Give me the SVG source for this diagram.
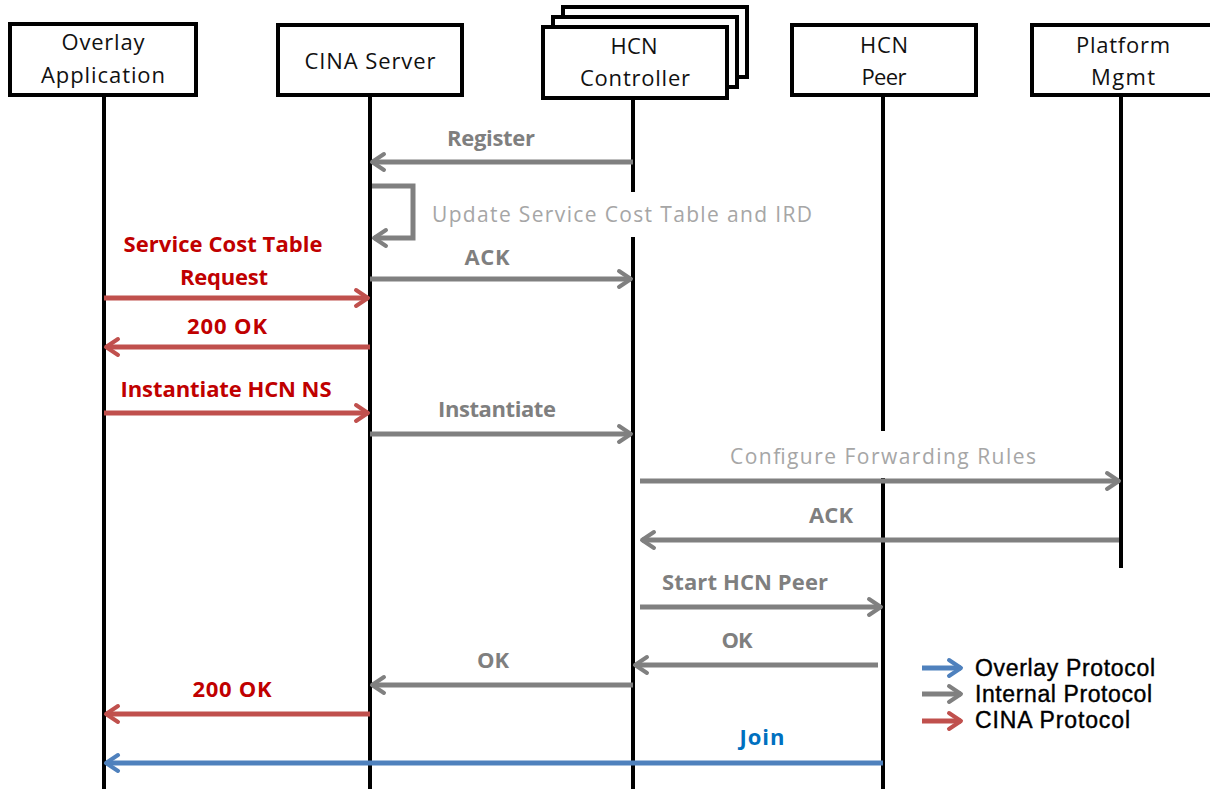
<svg xmlns="http://www.w3.org/2000/svg" width="1210" height="789" viewBox="0 0 1210 789">
  <style>
    .box { fill: #ffffff; stroke: #000000; stroke-width: 4; }
    .life { stroke: #000000; stroke-width: 4; fill: none; }
    .name { font-family: "Open Sans", "Liberation Sans", sans-serif; font-size: 22px; fill: #111111; text-anchor: middle; }
    .lbl { font-family: "Open Sans", "Liberation Sans", sans-serif; font-size: 21px; text-anchor: middle; }
    .b { font-weight: bold; font-size: 22px; }
    .gray { fill: #7f7f7f; }
    .lgray { fill: #a6a6a6; font-weight: normal; }
    .red { fill: #c00000; }
    .blue { fill: #0070c0; }
    .msg { fill: none; stroke-width: 5; }
    .g { stroke: #808080; }
    .r { stroke: #c0504d; }
    .u { stroke: #4f81bd; }
    .legend { font-family: "Liberation Sans", Arial, sans-serif; font-size: 23px; fill: #000000; stroke: #000000; stroke-width: 0.4; }
  </style>
  <defs>
    <marker id="ahGray" markerUnits="userSpaceOnUse" markerWidth="24" markerHeight="24" refX="14" refY="10" orient="auto" overflow="visible">
      <path d="M2,2 L14,10 L2,18" fill="none" stroke="#808080" stroke-width="4" stroke-linecap="round" stroke-linejoin="round"/>
    </marker>
    <marker id="ahRed" markerUnits="userSpaceOnUse" markerWidth="24" markerHeight="24" refX="14" refY="10" orient="auto" overflow="visible">
      <path d="M2,2 L14,10 L2,18" fill="none" stroke="#c0504d" stroke-width="4" stroke-linecap="round" stroke-linejoin="round"/>
    </marker>
    <marker id="ahBlue" markerUnits="userSpaceOnUse" markerWidth="24" markerHeight="24" refX="14" refY="10" orient="auto" overflow="visible">
      <path d="M2,2 L14,10 L2,18" fill="none" stroke="#4f81bd" stroke-width="4" stroke-linecap="round" stroke-linejoin="round"/>
    </marker>
  </defs>

  <rect width="1210" height="789" fill="#ffffff"/>

  <!-- participants -->
  <g id="overlay-app">
    <rect class="box" x="10" y="24" width="186" height="71"/>
    <line class="life" x1="104" y1="95" x2="104" y2="789"/>
    <text class="name" x="103" y="50" textLength="83">Overlay</text>
    <text class="name" x="103" y="83" textLength="124">Application</text>
  </g>

  <g id="cina-server">
    <rect class="box" x="278" y="25" width="184" height="70"/>
    <line class="life" x1="370" y1="95" x2="370" y2="789"/>
    <text class="name" x="370" y="69" textLength="131">CINA Server</text>
  </g>

  <g id="hcn-controller">
    <rect class="box" x="563" y="7" width="184" height="70"/>
    <rect class="box" x="553" y="17" width="184" height="70"/>
    <rect class="box" x="543" y="27" width="184" height="71"/>
    <line class="life" x1="633" y1="98" x2="633" y2="789"/>
    <text class="name" x="634" y="54" textLength="47">HCN</text>
    <text class="name" x="635" y="86" textLength="110">Controller</text>
  </g>

  <g id="hcn-peer">
    <rect class="box" x="792" y="25" width="184" height="70"/>
    <line class="life" x1="883" y1="95" x2="883" y2="789"/>
    <text class="name" x="884" y="53" textLength="48">HCN</text>
    <text class="name" x="884" y="85" textLength="45">Peer</text>
  </g>

  <g id="platform-mgmt">
    <rect class="box" x="1032" y="25" width="190" height="70"/>
    <line class="life" x1="1121" y1="95" x2="1121" y2="568"/>
    <text class="name" x="1123" y="53" textLength="94">Platform</text>
    <text class="name" x="1123" y="85" textLength="64">Mgmt</text>
  </g>

  <!-- messages -->
  <g id="connectors">
    <line class="msg g" x1="633" y1="162" x2="372" y2="162" marker-end="url(#ahGray)"/>
    <path class="msg g" d="M372,186 H413 V238 H374" marker-end="url(#ahGray)"/>
    <line class="msg g" x1="370" y1="279" x2="631" y2="279" marker-end="url(#ahGray)"/>
    <line class="msg r" x1="104" y1="298" x2="368" y2="298" marker-end="url(#ahRed)"/>
    <line class="msg r" x1="370" y1="347" x2="106" y2="347" marker-end="url(#ahRed)"/>
    <line class="msg r" x1="104" y1="413" x2="368" y2="413" marker-end="url(#ahRed)"/>
    <line class="msg g" x1="370" y1="434" x2="631" y2="434" marker-end="url(#ahGray)"/>
    <line class="msg g" x1="640" y1="481" x2="1119" y2="481" marker-end="url(#ahGray)"/>
    <line class="msg g" x1="1119" y1="540" x2="642" y2="540" marker-end="url(#ahGray)"/>
    <line class="msg g" x1="640" y1="607" x2="881" y2="607" marker-end="url(#ahGray)"/>
    <line class="msg g" x1="878" y1="665" x2="635" y2="665" marker-end="url(#ahGray)"/>
    <line class="msg g" x1="633" y1="685" x2="372" y2="685" marker-end="url(#ahGray)"/>
    <line class="msg r" x1="370" y1="714" x2="106" y2="714" marker-end="url(#ahRed)"/>
    <line class="msg u" x1="883" y1="763" x2="106" y2="763" marker-end="url(#ahBlue)"/>
  </g>

  <!-- message labels -->
  <g id="labels">
    <text class="lbl b gray" x="491" y="146" textLength="88">Register</text>
    <rect x="426" y="192" width="406" height="45" fill="#ffffff"/>
    <text class="lbl lgray" x="622" y="222" textLength="380">Update Service  Cost Table and IRD</text>
    <text class="lbl b red" x="223" y="252" textLength="199">Service Cost Table</text>
    <text class="lbl b red" x="224" y="285" textLength="88">Request</text>
    <text class="lbl b gray" x="487" y="265" textLength="45">ACK</text>
    <text class="lbl b red" x="227" y="334" textLength="80">200 OK</text>
    <text class="lbl b red" x="226" y="397" textLength="211">Instantiate HCN NS</text>
    <text class="lbl b gray" x="497" y="417" textLength="118">Instantiate</text>
    <rect x="724" y="431" width="318" height="47" fill="#ffffff"/>
    <text class="lbl lgray" x="883" y="464" textLength="306">Configure  Forwarding Rules</text>
    <text class="lbl b gray" x="831" y="523" textLength="44">ACK</text>
    <text class="lbl b gray" x="745" y="590" textLength="166">Start HCN Peer</text>
    <text class="lbl b gray" x="737" y="648" textLength="31">OK</text>
    <text class="lbl b gray" x="493" y="668" textLength="32">OK</text>
    <text class="lbl b red" x="232" y="697" textLength="79">200 OK</text>
    <text class="lbl b blue" x="762" y="745" textLength="45">Join</text>
  </g>

  <!-- legend -->
  <g id="legend">
    <line class="msg u" x1="922" y1="668" x2="961" y2="668" marker-end="url(#ahBlue)"/>
    <line class="msg g" x1="922" y1="694" x2="961" y2="694" marker-end="url(#ahGray)"/>
    <line class="msg r" x1="922" y1="721" x2="961" y2="721" marker-end="url(#ahRed)"/>
    <text class="legend" x="975" y="676" textLength="180">Overlay Protocol</text>
    <text class="legend" x="975" y="702" textLength="177">Internal Protocol</text>
    <text class="legend" x="975" y="728" textLength="155">CINA Protocol</text>
  </g>
</svg>
